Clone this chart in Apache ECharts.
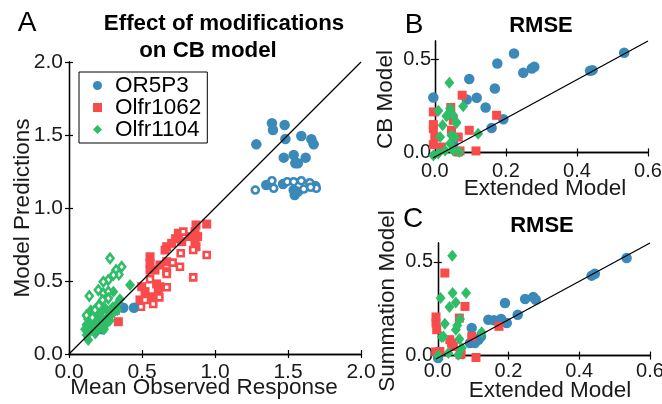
<!DOCTYPE html>
<html>
<head>
<meta charset="utf-8">
<script src="https://cdn.jsdelivr.net/npm/echarts@6/dist/echarts.min.js"></script>
<style>
  html, body { margin: 0; background: #fff; }
  #chart { width: 662px; height: 404px; }
</style>
</head>
<body>
<div id="chart"></div>
<script>
// panel A: mean observed response vs model prediction (filled = CB model, hollow = modified)
const A_OR5P3 = [[1.390,1.580],[1.397,1.534],[1.477,1.568],[1.283,1.436],[1.482,1.473],[1.591,1.493],[1.660,1.471],[1.676,1.436],[1.471,1.345],[1.539,1.363],[1.621,1.345],[1.568,1.306],[1.550,1.306],[1.351,1.158],[1.466,1.164],[1.539,1.123],[1.568,1.112],[1.546,1.089],[1.687,1.151],[0.372,0.317],[0.445,0.317],[0.228,0.170]]
const A_OR5P3_MOD = [[1.276,1.123],[1.390,1.187],[1.402,1.135],[1.495,1.180],[1.539,1.180],[1.591,1.187],[1.649,1.173],[1.608,1.130],[1.694,1.135],[1.655,1.142]]
const A_OLFR1062 = [[0.943,0.890],[0.870,0.884],[0.863,0.838],[0.881,0.804],[0.863,0.769],[0.870,0.735],[0.829,0.804],[0.749,0.827],[0.772,0.769],[0.703,0.758],[0.669,0.735],[0.658,0.712],[0.555,0.666],[0.555,0.621],[0.555,0.575],[0.589,0.575],[0.623,0.610],[0.669,0.632],[0.669,0.564],[0.623,0.461],[0.612,0.427],[0.566,0.392],[0.521,0.427],[0.498,0.461],[0.486,0.370],[0.338,0.324],[0.338,0.221],[0.318,0.300],[0.730,0.790],[0.600,0.480]]
const A_OLFR1062_MOD = [[0.783,0.838],[0.851,0.712],[0.765,0.690],[0.710,0.626],[0.760,0.598],[0.851,0.525],[0.943,0.678],[0.669,0.548],[0.555,0.512],[0.669,0.457],[0.619,0.388],[0.577,0.342],[0.521,0.370],[0.493,0.324]]
const A_OLFR1104 = [[0.418,0.473],[0.304,0.427],[0.349,0.375],[0.330,0.340],[0.300,0.320],[0.280,0.300],[0.250,0.310],[0.220,0.290],[0.200,0.270],[0.180,0.250],[0.150,0.260],[0.130,0.240],[0.140,0.210],[0.160,0.200],[0.190,0.220],[0.230,0.240],[0.260,0.250],[0.290,0.270],[0.310,0.290],[0.250,0.200],[0.210,0.180],[0.170,0.170],[0.140,0.150],[0.120,0.130],[0.132,0.096],[0.180,0.140],[0.240,0.170],[0.280,0.230],[0.330,0.300],[0.120,0.200],[0.110,0.170],[0.200,0.330],[0.150,0.300]]
const A_OLFR1104_MOD = [[0.281,0.655],[0.361,0.598],[0.322,0.575],[0.342,0.545],[0.304,0.541],[0.269,0.507],[0.235,0.495],[0.201,0.438],[0.235,0.416],[0.269,0.427],[0.139,0.397],[0.269,0.381],[0.230,0.370],[0.178,0.301],[0.205,0.330],[0.160,0.250],[0.120,0.265]]

// panel B: RMSE, extended model vs CB model
const B_OR5P3 = [[-0.004,0.296],[0.097,0.395],[0.090,0.285],[0.118,0.294],[0.169,0.344],[0.176,0.479],[0.223,0.533],[0.249,0.429],[0.273,0.452],[0.280,0.461],[0.437,0.440],[0.444,0.443],[0.533,0.537],[0.143,0.242],[0.160,0.132],[0.193,0.179],[0.052,0.048]]
const B_OLFR1062 = [[0.077,0.308],[-0.004,0.218],[0.045,0.242],[0.174,0.200],[0.097,0.119],[0.116,0.008],[-0.004,0.128],[0.000,0.083],[-0.004,0.042],[0.052,0.173],[0.066,0.083],[0.071,0.008],[0.019,0.029],[0.047,0.119],[0.066,0.002],[-0.004,0.150]]
const B_OLFR1104 = [[0.041,0.375],[0.010,0.224],[0.043,0.236],[0.080,0.249],[0.033,0.195],[0.052,0.200],[0.060,0.164],[0.022,0.146],[0.047,0.092],[0.015,0.083],[0.057,0.083],[0.122,0.101],[-0.004,-0.016],[0.010,-0.006],[0.029,0.011],[0.052,0.011],[0.043,0.048],[0.069,0.002],[0.035,0.200],[0.061,0.159]]

// panel C: RMSE, extended model vs summation model
const C_OR5P3 = [[0.096,0.147],[0.091,0.067],[0.115,0.085],[0.122,0.102],[0.143,0.191],[0.159,0.188],[0.179,0.195],[0.190,0.280],[0.195,0.174],[0.226,0.218],[0.247,0.302],[0.270,0.312],[0.277,0.298],[0.435,0.426],[0.444,0.436],[0.534,0.520],[0.001,-0.013],[0.105,0.067]]
const C_OLFR1062 = [[0.020,0.440],[0.077,0.262],[-0.005,0.206],[-0.005,0.174],[-0.003,0.138],[0.061,0.200],[0.006,0.022],[0.096,0.102],[0.108,-0.010],[0.173,0.156],[0.034,0.085],[0.044,0.049],[0.063,0.005],[0.039,0.067],[0.066,0.009],[-0.006,0.020]]
const C_OLFR1104 = [[0.041,0.532],[0.008,0.307],[0.042,0.334],[0.080,0.334],[0.033,0.259],[0.051,0.283],[0.063,0.195],[0.020,0.170],[0.051,0.138],[0.011,0.099],[0.061,0.088],[0.124,0.124],[0.001,0.000],[0.030,0.014],[0.058,0.005],[0.068,0.040],[0.016,0.102],[0.055,0.160]]

const A_TICKS = [0, 0.5, 1, 1.5, 2]
const BC_X_TICKS = [0, 0.2, 0.4, 0.6]
const BC_Y_TICKS = [0, 0.5]
const RECEPTORS = ['OR5P3', 'Olfr1062', 'Olfr1104']

const FONT = 'Liberation Sans, Arial, Helvetica, sans-serif'
const INK = '#1a1a1a'
const COLORS = { OR5P3: '#3a89b8', Olfr1062: '#f94b4b', Olfr1104: '#2fbd67' }
const SYMBOLS = { OR5P3: 'circle', Olfr1062: 'rect', Olfr1104: 'diamond' }
const SIZES = { OR5P3: 10.5, Olfr1062: 9, Olfr1104: [10, 12] }
const HOLLOW = { OR5P3: 7, Olfr1062: 6, Olfr1104: [7, 9] }

// grid boxes: A, B, C
const grids = [
  { left: 69, top: 62, width: 292, height: 292, outerBoundsMode: 'none' },
  { left: 433, top: 41, width: 215, height: 117, outerBoundsMode: 'none' },
  { left: 436, top: 243, width: 214, height: 116, outerBoundsMode: 'none' }
]
const limits = [
  { x: [0, 2], y: [0, 2] },
  { x: [-0.005, 0.6], y: [-0.03, 0.6] },
  { x: [-0.005, 0.6], y: [-0.018, 0.6] }
]

const fmt = v => v.toFixed(1)
const frame = { show: true, lineStyle: { color: '#000', width: 1.3 } }

function axisPair(dim, g, ticks, opts) {
  let lim = limits[g][dim]
  let base = {
    type: 'value',
    gridIndex: g,
    min: lim[0],
    max: lim[1],
    splitLine: { show: false },
    axisLine: frame,
    axisTick: { show: true, inside: true, length: 4, customValues: ticks, lineStyle: { color: '#000', width: 1.2 } }
  }
  let main = Object.assign({}, base, {
    position: dim === 'x' ? 'bottom' : 'left',
    name: opts.name,
    nameLocation: 'middle',
    nameGap: opts.nameGap,
    nameMoveOverlap: false,
    nameTextStyle: { fontFamily: FONT, fontSize: 22.5, color: INK, padding: opts.namePad || 0 },
    axisLabel: { customValues: ticks, formatter: fmt, margin: opts.margin, fontFamily: FONT, fontSize: opts.fontSize, color: INK }
  })
  let other = Object.assign({}, base, {
    position: dim === 'x' ? 'top' : 'right',
    axisLabel: { show: false }
  })
  return [main, other]
}

const xAxes = [
  ...axisPair('x', 0, A_TICKS, { name: 'Mean Observed Response', nameGap: 22, margin: 8, fontSize: 21, namePad: [0, 22, 0, 0] }),
  ...axisPair('x', 1, BC_X_TICKS, { name: 'Extended Model', nameGap: 19, margin: 3, fontSize: 20, namePad: [0, 0, 0, 9] }),
  ...axisPair('x', 2, BC_X_TICKS, { name: 'Extended Model', nameGap: 20, margin: 2, fontSize: 20, namePad: [0, 0, 0, 14] })
]
const yAxes = [
  ...axisPair('y', 0, A_TICKS, { name: 'Model Predictions', nameGap: 35, margin: 6, fontSize: 21 }),
  ...axisPair('y', 1, BC_Y_TICKS, { name: 'CB Model', nameGap: 36, margin: 2, fontSize: 20 }),
  ...axisPair('y', 2, BC_Y_TICKS, { name: 'Summation Model', nameGap: 37, margin: 3, fontSize: 20 })
]

function filled(name, data, g, z) {
  return {
    name, type: 'scatter', data, xAxisIndex: g * 2, yAxisIndex: g * 2,
    symbol: SYMBOLS[name], symbolSize: SIZES[name],
    itemStyle: { color: COLORS[name], opacity: 1 },
    clip: false, silent: true, z
  }
}
function hollow(name, data, g, z) {
  return {
    name: name + ' modified', type: 'scatter', data, xAxisIndex: g * 2, yAxisIndex: g * 2,
    symbol: SYMBOLS[name], symbolSize: HOLLOW[name],
    itemStyle: { color: '#fff', borderColor: COLORS[name], borderWidth: 2.6, opacity: 1 },
    clip: false, silent: true, z
  }
}
function diagonal(g) {
  let l = limits[g]
  return {
    type: 'line', xAxisIndex: g * 2, yAxisIndex: g * 2,
    data: [[l.x[0], l.y[0]], [l.x[1], l.y[1]]],
    symbol: 'none', silent: true, clip: false, z: 20,
    lineStyle: { color: '#000', width: 1.3 }
  }
}

const series = [
  filled('Olfr1062', A_OLFR1062, 0, 2),
  hollow('Olfr1062', A_OLFR1062_MOD, 0, 2),
  filled('OR5P3', A_OR5P3, 0, 3),
  hollow('OR5P3', A_OR5P3_MOD, 0, 3),
  filled('Olfr1104', A_OLFR1104, 0, 4),
  hollow('Olfr1104', A_OLFR1104_MOD, 0, 4),
  diagonal(0),
  filled('OR5P3', B_OR5P3, 1, 2),
  filled('Olfr1062', B_OLFR1062, 1, 3),
  filled('Olfr1104', B_OLFR1104, 1, 4),
  diagonal(1),
  filled('OR5P3', C_OR5P3, 2, 2),
  filled('Olfr1062', C_OLFR1062, 2, 3),
  filled('Olfr1104', C_OLFR1104, 2, 4),
  diagonal(2)
]

function label(text, x, y, size, bold) {
  return {
    type: 'text', x, y, silent: true,
    style: { text, fill: '#000', fontFamily: FONT, fontSize: size, fontWeight: bold ? 'bold' : 'normal', align: 'center', verticalAlign: 'middle' }
  }
}

const chart = echarts.init(document.getElementById('chart'), null, { renderer: 'canvas' })
chart.setOption({
  animation: false,
  backgroundColor: '#fff',
  grid: grids,
  xAxis: xAxes,
  yAxis: yAxes,
  legend: {
    data: RECEPTORS,
    orient: 'vertical',
    left: 79,
    top: 72,
    itemWidth: 9,
    itemHeight: 9,
    itemGap: -1,
    padding: [2, 6, 2, 14],
    borderColor: '#000',
    borderWidth: 1,
    borderRadius: 0,
    backgroundColor: '#fff',
    selectedMode: false,
    textStyle: { fontFamily: FONT, fontSize: 22.5, color: '#000', padding: [0, 0, 0, 8] },
    z: 30
  },
  graphic: [
    label('A', 27, 23, 28, false),
    label('B', 414, 25, 28, false),
    label('C', 413, 219, 28, false),
    label('Effect of modifications', 224, 24, 22.3, true),
    label('on CB model', 208, 51, 22.3, true),
    label('RMSE', 541, 26, 22, true),
    label('RMSE', 542, 226, 22, true)
  ],
  series
})
</script>
</body>
</html>
